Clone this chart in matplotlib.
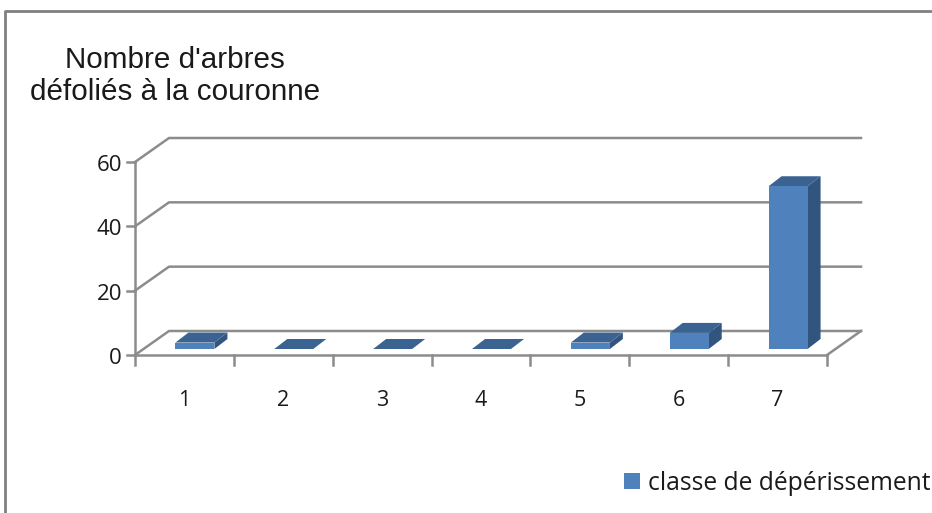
#Nombre d'arbres defolies - fake 3D column chart

import matplotlib
matplotlib.use("Agg")
import matplotlib.pyplot as plt
from matplotlib.lines import Line2D
from matplotlib.patches import Rectangle

# data
classes = [1, 2, 3, 4, 5, 6, 7]
counts = [2, 0, 0, 0, 2, 5, 50.6]
y_ticks = [0, 20, 40, 60]
title_lines = "Nombre d'arbres\ndéfoliés à la couronne"
legend_label = "classe de dépérissement"

W, H = 932, 513
GRID = '#8c8c8c'
FRONT = '#4f81bd'
TOP = '#3b6391'
SIDE = '#31557f'
TEXT = '#1a1a1a'

fig = plt.figure(figsize=(W / 100, H / 100), dpi=100)
# axes box = front plane of the chart in pixels
left, right, bottom, top = 135, 827, 355, 162
ax = fig.add_axes([left / W, 1 - bottom / H, (right - left) / W, (bottom - top) / H])
ax.set_xlim(0.5, 7.5)
ax.set_ylim(0, 60)
ax.axis('off')

# pixel to data scale
px_x = 7 / (right - left)
px_y = 60 / (bottom - top)

# wall depth
depth_x = 34 * px_x
depth_y = 24 * px_y

# walls and floor
for t in y_ticks:
    ax.plot([0.5, 0.5 + depth_x, 7.5 + depth_x], [t, t + depth_y, t + depth_y],
            color=GRID, lw=1.8, clip_on=False, zorder=1)
ax.plot([7.5, 7.5 + depth_x], [0, depth_y], color=GRID, lw=1.8, clip_on=False, zorder=1)
ax.plot([0.5, 7.5], [0, 0], color=GRID, lw=1.8, clip_on=False, zorder=1)
ax.plot([0.5, 0.5], [0, 60], color=GRID, lw=1.8, clip_on=False, zorder=1)

# ticks
for t in y_ticks:
    ax.plot([0.5 - 8 * px_x, 0.5], [t, t], color=GRID, lw=1.8, clip_on=False, zorder=1)
    ax.text(0.5 - 13 * px_x, t - 3.5 * px_y, str(t), ha='right', va='center', fontsize=16,
            family='Open Sans', color=TEXT)
for i in range(8):
    ax.plot([0.5 + i, 0.5 + i], [0, -10 * px_y], color=GRID, lw=1.8, clip_on=False, zorder=1)
for c in classes:
    ax.text(c, -45 * px_y, str(c), ha='center', va='center', fontsize=15.5,
            family='Open Sans', color=TEXT)

# bars, front face + top + side
bar_w = 39 * px_x
shift_x = 10.5 * px_x
shift_y = 6 * px_y
bar_dx = 13 * px_x
bar_dy = 10 * px_y
for c, v in zip(classes, counts):
    x0 = c + shift_x - bar_w / 2
    x1 = x0 + bar_w
    y0 = shift_y
    y1 = y0 + v
    ax.fill([x1, x1 + bar_dx, x1 + bar_dx, x1], [y0, y0 + bar_dy, y1 + bar_dy, y1],
            color=SIDE, lw=0, clip_on=False, zorder=3)
    ax.fill([x0, x1, x1 + bar_dx, x0 + bar_dx], [y1, y1, y1 + bar_dy, y1 + bar_dy],
            color=TOP, lw=0, clip_on=False, zorder=3)
    if v > 0:
        ax.bar(x0, v, width=bar_w, bottom=y0, align='edge', color=FRONT, lw=0,
               clip_on=False, zorder=4)

# outer frame (only top and left show)
fig.add_artist(Line2D([5 / W, 5 / W, 1], [0, 1 - 11 / H, 1 - 11 / H], color='#808080', lw=2))

# title
fig.text(175 / W, 1 - 76 / H, title_lines, ha='center', va='center', fontsize=21.3,
         family='Liberation Sans', color=TEXT, linespacing=1.22)

# legend
fig.add_artist(Rectangle((624 / W, 1 - 489 / H), 16 / W, 16 / H, transform=fig.transFigure,
                         facecolor=FRONT, edgecolor='none'))
fig.text(648 / W, 1 - 483 / H, legend_label, ha='left', va='center', fontsize=17.7,
         family='Open Sans', color=TEXT)

fig.savefig('out.png', dpi=100)
